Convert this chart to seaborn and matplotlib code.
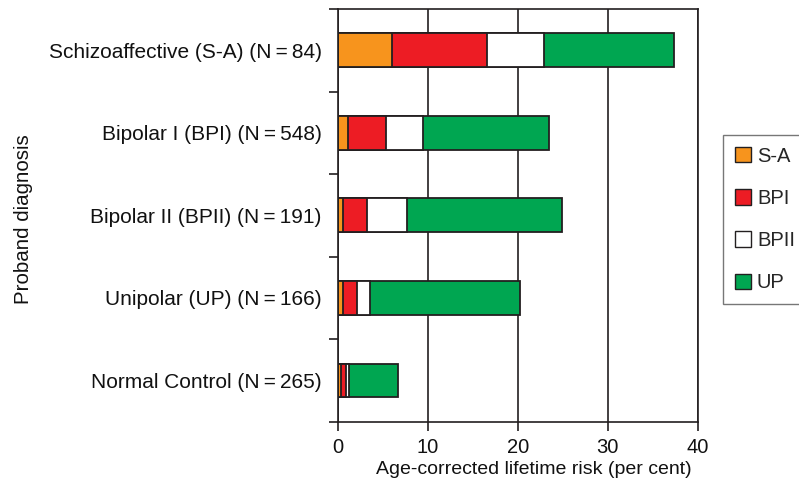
import numpy as np
import pandas as pd
import matplotlib
matplotlib.use('Agg')
import matplotlib.pyplot as plt
import seaborn as sns
from matplotlib.patches import Patch

# proband groups and age-corrected lifetime risk (per cent) in relatives, by relative diagnosis
groups = ['Schizoaffective (S-A) (N\u2009=\u200984)',
          'Bipolar I (BPI) (N\u2009=\u2009548)',
          'Bipolar II (BPII) (N\u2009=\u2009191)',
          'Unipolar (UP) (N\u2009=\u2009166)',
          'Normal Control (N\u2009=\u2009265)']
sa_risk = [6.0, 1.1, 0.6, 0.6, 0.4]
bpi_risk = [10.6, 4.3, 2.6, 1.5, 0.5]
bpii_risk = [6.3, 4.1, 4.5, 1.5, 0.3]
up_risk = [14.5, 14.0, 17.2, 16.7, 5.5]

series = ['S-A', 'BPI', 'BPII', 'UP']
colors = ['#F7941D', '#ED1C24', '#FFFFFF', '#00A651']

sns.set_style('white')
plt.rcParams['font.family'] = ['Liberation Sans', 'DejaVu Sans']

df = pd.DataFrame({'group': groups, 'S-A': sa_risk, 'BPI': bpi_risk,
                   'BPII': bpii_risk, 'UP': up_risk})
cum = df[series].cumsum(axis=1)
cum['group'] = df['group']

fig = plt.figure(figsize=(7.99, 4.91), dpi=100)
ax = fig.add_axes([0.4227, 0.1411, 0.4506, 0.8406])
ax.set_axisbelow(True)

# stacked bars: draw cumulative totals from the outermost segment inwards
edge = '#231F20'
for s, c in reversed(list(zip(series, colors))):
    sns.barplot(data=cum, x=s, y='group', order=groups, color=c, orient='h',
                width=0.41, edgecolor=edge, linewidth=1.3, saturation=1, ax=ax)

ax.set_xlim(0, 40)
ax.set_ylim(4.5, -0.5)
ax.set_xticks([0, 10, 20, 30, 40])
ax.xaxis.grid(True, color=edge, linewidth=1.2)
for sp in ax.spines.values():
    sp.set_visible(True)
    sp.set_color(edge)
    sp.set_linewidth(1.2)

fs = 14.5
ax.set_yticks(range(len(groups)))
ax.set_yticklabels(groups)
ax.set_yticks(np.arange(-0.5, 5, 1.0), minor=True)
ax.tick_params(axis='y', which='major', length=0, pad=11.5, labelsize=15, labelcolor='#111111')
ax.tick_params(axis='y', which='minor', left=True, length=6.5, width=1.2, color=edge, direction='out')
ax.tick_params(axis='x', bottom=True, length=6.5, width=1.2, color=edge, direction='out',
               pad=5, labelsize=fs, labelcolor='#111111')

ax.set_xlabel('Age-corrected lifetime risk (per cent)', fontsize=14, color='#111111', va='center')
ax.xaxis.set_label_coords(534 / 799, 1 - 470 / 491, transform=fig.transFigure)
ax.set_ylabel('Proband diagnosis', fontsize=14.8, color='#111111', va='center')
ax.yaxis.set_label_coords(24 / 799, 1 - 219 / 491, transform=fig.transFigure)

handles = [Patch(facecolor=c, edgecolor=edge, linewidth=1.0) for c in colors]
fig.legend(handles, series, loc='upper left', bbox_to_anchor=(0.9045, 0.7257),
           borderaxespad=0, frameon=True, fancybox=False, edgecolor='#555555',
           fontsize=fs, handlelength=0.8, handleheight=0.8, handletextpad=0.3,
           labelspacing=1.15, borderpad=0.6)

fig.savefig('out.png', dpi=100)
